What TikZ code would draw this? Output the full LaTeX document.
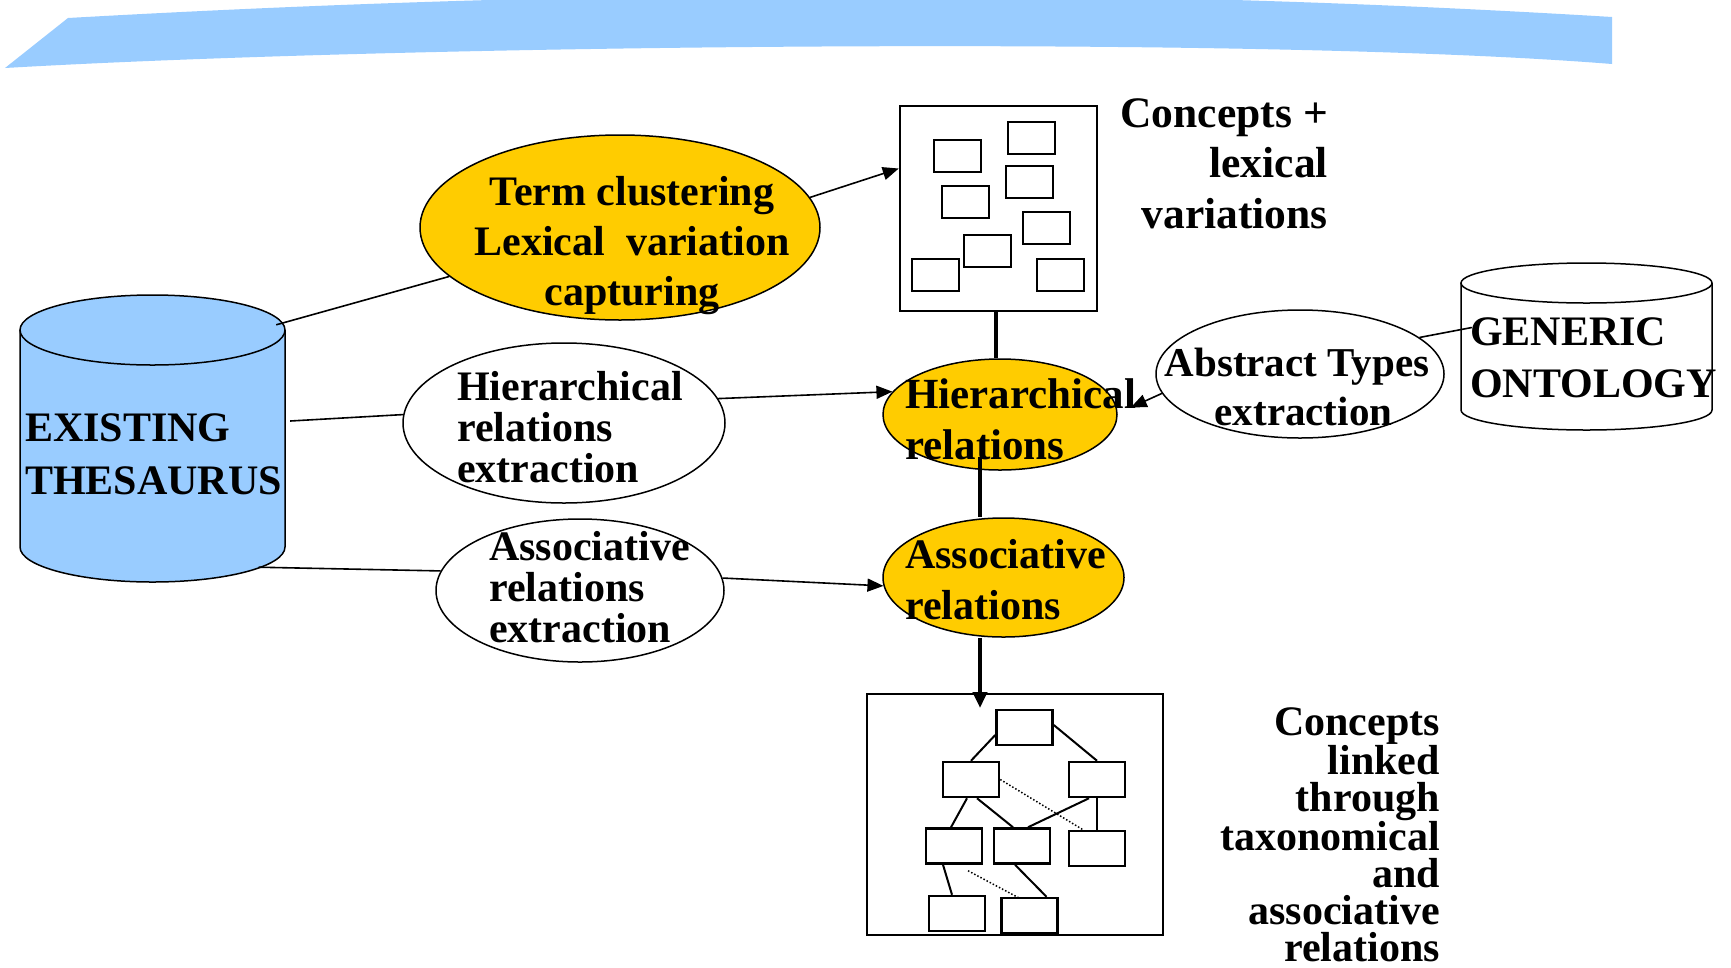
\documentclass[tikz,border=0pt]{standalone}
\usepackage{fontspec}
\setmainfont{Liberation Serif}
\usetikzlibrary{shapes.geometric,arrows.meta,calc}

\definecolor{sky}{HTML}{99CCFF}
\definecolor{gold}{HTML}{FFCC00}

\begin{document}
\begin{tikzpicture}[x=1pt,y=-1pt,
  ell/.style={ellipse,draw,line width=1.5pt,inner sep=0pt},
  box/.style={draw,line width=2pt,inner sep=0pt,minimum width=47pt,minimum height=32pt},
  tbox/.style={draw,line width=2.5pt,inner sep=0pt,minimum width=56pt,minimum height=35pt},
  conn/.style={line width=1.6pt},
  arr/.style={-{Triangle[length=16pt,width=13pt]}},
  heavy/.style={line width=4.5pt},
  tl/.style={line width=2pt},
  dl/.style={line width=1.5pt,dotted},
  lbl/.style={inner sep=0pt,font=\bfseries}
]
\useasboundingbox (0,0) rectangle (1731,967);
\fill[white] (0,0) rectangle (1731,967);

% title banner
\fill[sky] (5,68) -- (68,18) .. controls (600,-12) and (1100,-14) .. (1612,17)
  -- (1612,64) .. controls (1250,35) and (400,45) .. (5,68) -- cycle;

% existing thesaurus drum
\path[fill=sky] (20,330) -- (20,547) arc[start angle=180,end angle=360,x radius=132.5pt,y radius=35pt] -- (285,330) -- cycle;
\draw[line width=1.5pt] (20,330) -- (20,547) arc[start angle=180,end angle=360,x radius=132.5pt,y radius=35pt] -- (285,330);
\draw[line width=1.5pt,fill=sky] (152.5,330) ellipse[x radius=132.5pt,y radius=35pt];
\node[inner sep=0pt,minimum width=265pt,minimum height=287pt] (thes) at (152.5,438.5) {};

% generic ontology drum
\path[fill=white] (1461,283) -- (1461,410) arc[start angle=180,end angle=360,x radius=125.5pt,y radius=20pt] -- (1712,283) -- cycle;
\draw[line width=1.5pt] (1461,283) -- (1461,410) arc[start angle=180,end angle=360,x radius=125.5pt,y radius=20pt] -- (1712,283);
\draw[line width=1.5pt,fill=white] (1586.5,283) ellipse[x radius=125.5pt,y radius=20pt];
\node[inner sep=0pt,minimum width=251pt,minimum height=167pt] (gen) at (1586.5,346.5) {};

% process ellipses
\node[ell,fill=gold,minimum width=400pt,minimum height=185pt] (term) at (620,227.5) {};
\node[ell,fill=white,minimum width=322pt,minimum height=160pt] (hre) at (564,423) {};
\node[ell,fill=white,minimum width=288pt,minimum height=143pt] (are) at (580,590.5) {};
\node[ell,fill=gold,minimum width=234pt,minimum height=111pt] (hier) at (1000,414.5) {};
\node[ell,fill=gold,minimum width=241pt,minimum height=119pt] (assoc) at (1003.5,577.5) {};
\node[ell,fill=white,minimum width=288pt,minimum height=128pt] (abs) at (1300,374) {};

% concepts with lexical variations
\node[draw,line width=2.5pt,inner sep=0pt,minimum width=197pt,minimum height=205pt] (cbox) at (998.5,208.5) {};
\node[box] (c1) at (957,156) {};
\node[box] (c2) at (1031,138) {};
\node[box] (c3) at (965,202) {};
\node[box] (c4) at (1029,182) {};
\node[box] (c5) at (1046.5,228) {};
\node[box] (c6) at (987.5,250.5) {};
\node[box] (c7) at (935,274.5) {};
\node[box] (c8) at (1060.5,274.5) {};

% linked concept tree
\node[draw,line width=2pt,inner sep=0pt,minimum width=296pt,minimum height=241pt] (tree) at (1015,814.5) {};
\node[tbox] (t1) at (1024.5,727.5) {};
\node[tbox] (t2) at (971,779.5) {};
\node[tbox] (t3) at (1097,779.5) {};
\node[tbox] (t4) at (954,846) {};
\node[tbox] (t5) at (1022,846) {};
\node[tbox] (t6) at (1097,848.5) {};
\node[tbox] (t7) at (957,913.5) {};
\node[tbox] (t8) at (1029.5,915.5) {};
\draw[tl] ($(t1.west)+(0,7.5)$) -- (t2.north);
\draw[tl] ($(t1.east)+(0,-2.5)$) -- (t3.north);
\draw[tl] ($(t2.south)+(-4,0)$) -- ($(t4.north)+(-3,0)$);
\draw[tl] ($(t2.south)+(6,0)$) -- ($(t5.north)+(-9,0)$);
\draw[tl] ($(t3.south)+(-8,0)$) -- ($(t5.north)+(6,0)$);
\draw[tl] (t3.south) -- (t6.north);
\draw[tl] ($(t4.south)+(-11,0)$) -- ($(t7.north)+(-5,0)$);
\draw[tl] ($(t5.south)+(-7,0)$) -- ($(t8.north)+(17,0)$);
\draw[dl] (t2.east) -- ($(t6.north)+(-14,0)$);
\draw[dl] ($(t4.south)+(14,6)$) -- ($(t8.north)+(-9,2)$);

% labels (each placed by the baseline of its last line)
\node[lbl,anchor=base,align=center,font=\bfseries\fontsize{42pt}{50pt}\selectfont] (termtxt) at (632,305) {Term clustering\\Lexical\ \ variation\\capturing};
\node[lbl,anchor=base east,align=right,font=\bfseries\fontsize{43.5pt}{50.5pt}\selectfont] (cvtxt) at (1328,228) {Concepts +\\lexical\\variations};
\node[lbl,anchor=base west,align=left,font=\bfseries\fontsize{42pt}{53pt}\selectfont] (thestxt) at (25,494) {EXISTING\\THESAURUS};
\node[lbl,anchor=base west,align=left,font=\bfseries\fontsize{42pt}{52pt}\selectfont] (gentxt) at (1470,397) {GENERIC\\ONTOLOGY};
\node[lbl,anchor=base,align=center,font=\bfseries\fontsize{41pt}{49pt}\selectfont] (abstxt) at (1297,425) {Abstract Types\\\hspace*{13pt}extraction};
\node[lbl,anchor=base west,align=left,font=\bfseries\fontsize{42pt}{41pt}\selectfont] (hretxt) at (457,482) {Hierarchical\\relations\\extraction};
\node[lbl,anchor=base west,align=left,font=\bfseries\fontsize{42pt}{41pt}\selectfont] (aretxt) at (489,642) {Associative\\relations\\extraction};
\node[lbl,anchor=base west,align=left,font=\bfseries\fontsize{43pt}{51pt}\selectfont] (hiertxt) at (905,459) {Hierarchical\\relations};
\node[lbl,anchor=base west,align=left,font=\bfseries\fontsize{42pt}{51pt}\selectfont] (assoctxt) at (905,619) {Associative\\relations};
\node[lbl,anchor=base east,align=right,font=\bfseries\fontsize{42pt}{36.7pt}\selectfont] (linkedtxt) at (1440,961) {Concepts\\linked\\through\\taxonomical\\and\\associative\\relations};

% connectors
\draw[conn] ($(thes.north east)+(-9,30)$) -- (term.196);
\draw[conn,arr] (term.9) -- ($(cbox.west)+(0,-40)$);
\draw[conn] ($(thes.east)+(5,-17.5)$) -- (hre.177);
\draw[conn,arr] (hre.9) -- (hier.168);
\draw[conn] ($(thes.south)+(106,-15)$) -- (are.172);
\draw[conn,arr] (are.5) -- (assoc.184);
\draw[conn,arr] (abs.188) -- ($(hier.east)+(13,-7)$);
\draw[conn] (abs.17) -- ($(gen.west)+(11,-19)$);

% main flow down the middle
\coordinate (cdown) at ($(cbox.south)+(-2.5,0)$);
\coordinate (hdown) at ($(hier.center)+(-20,42)$);
\coordinate (adown) at ($(assoc.south)+(-23.5,0)$);
\coordinate (tin) at ($(adown |- tree.north)+(0,15)$);
\draw[heavy] (cdown) -- (cdown |- hier.north);
\draw[heavy] (hdown) -- (hdown |- assoc.north);
\draw[heavy,-{Triangle[length=16pt,width=14pt]}] (adown) -- (tin);
\end{tikzpicture}
\end{document}
